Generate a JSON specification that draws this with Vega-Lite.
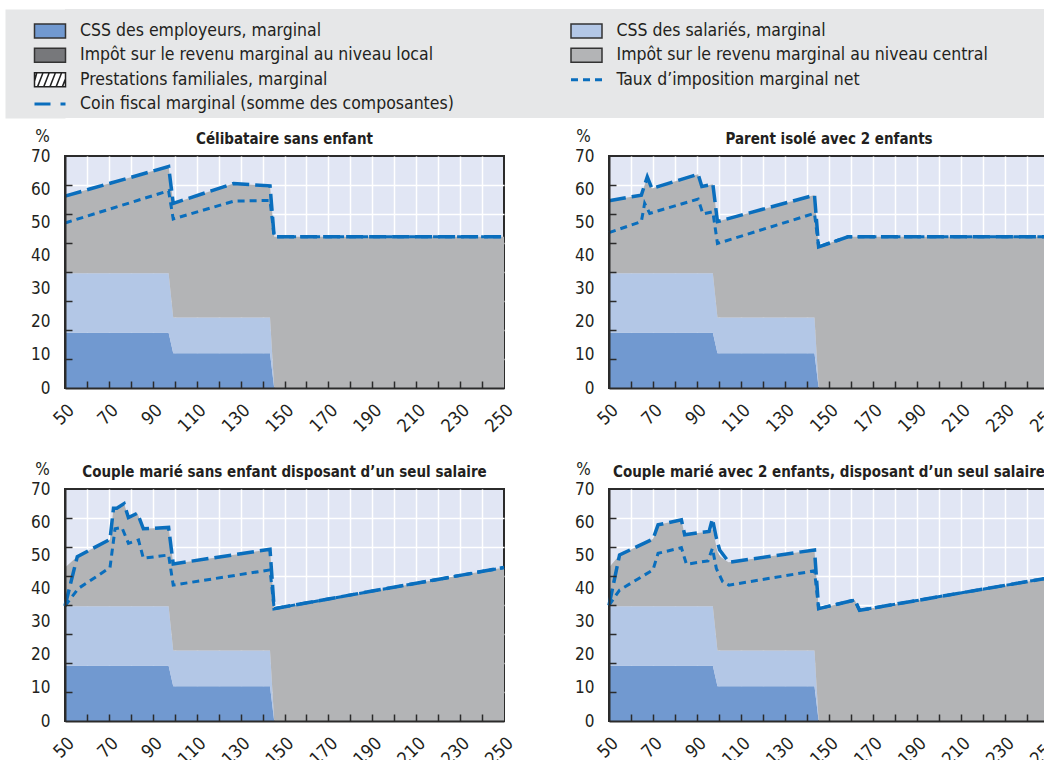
{
"$schema": "https://vega.github.io/schema/vega-lite/v6.json",
"padding": {"left": 28, "top": 9, "right": 0, "bottom": 0},
"background": "#ffffff",
"config": {
  "font": "DejaVu Sans Condensed, DejaVu Sans, sans-serif",
  "view": {"stroke": "#2b2b2b", "strokeWidth": 2, "fill": "#e1e6f4"},
  "title": {"fontSize": 15, "fontWeight": "bold", "color": "#231f20", "anchor": "middle", "frame": "group", "offset": 0, "baseline": "alphabetic", "dy": 24}
},
"datasets": {
  "legend": [
    {"label": "CSS des employeurs, marginal", "col": 0, "row": 0, "k": "emp"},
    {"label": "Impôt sur le revenu marginal au niveau local", "col": 0, "row": 1, "k": "local"},
    {"label": "Prestations familiales, marginal", "col": 0, "row": 2, "k": "fam"},
    {"label": "Coin fiscal marginal (somme des composantes)", "col": 0, "row": 3, "k": "wedge"},
    {"label": "CSS des salariés, marginal", "col": 1, "row": 0, "k": "ee"},
    {"label": "Impôt sur le revenu marginal au niveau central", "col": 1, "row": 1, "k": "central"},
    {"label": "Taux d’imposition marginal net", "col": 1, "row": 2, "k": "net"}
  ],
  "areas": [
    {"p": "p1", "x": 50, "css_employeurs": 16.7, "css_salaries": 17.9, "impot_central": 23.3},
    {"p": "p1", "x": 97.2, "css_employeurs": 16.7, "css_salaries": 17.9, "impot_central": 32.2},
    {"p": "p1", "x": 99.3, "css_employeurs": 10.5, "css_salaries": 10.8, "impot_central": 34.4},
    {"p": "p1", "x": 126.8, "css_employeurs": 10.5, "css_salaries": 10.8, "impot_central": 40.4},
    {"p": "p1", "x": 143.4, "css_employeurs": 10.5, "css_salaries": 10.8, "impot_central": 39.7},
    {"p": "p1", "x": 145.3, "css_employeurs": 0, "css_salaries": 0, "impot_central": 45.6},
    {"p": "p1", "x": 250, "css_employeurs": 0, "css_salaries": 0, "impot_central": 45.6},

    {"p": "p2", "x": 50, "css_employeurs": 16.7, "css_salaries": 17.9, "impot_central": 21.9},
    {"p": "p2", "x": 64.7, "css_employeurs": 16.7, "css_salaries": 17.9, "impot_central": 23.6},
    {"p": "p2", "x": 67.4, "css_employeurs": 16.7, "css_salaries": 17.9, "impot_central": 29.1},
    {"p": "p2", "x": 69.5, "css_employeurs": 16.7, "css_salaries": 17.9, "impot_central": 25.6},
    {"p": "p2", "x": 90.5, "css_employeurs": 16.7, "css_salaries": 17.9, "impot_central": 29.9},
    {"p": "p2", "x": 92.2, "css_employeurs": 16.7, "css_salaries": 17.9, "impot_central": 26.2},
    {"p": "p2", "x": 97.2, "css_employeurs": 16.7, "css_salaries": 17.9, "impot_central": 26.9},
    {"p": "p2", "x": 99.3, "css_employeurs": 10.5, "css_salaries": 10.8, "impot_central": 28.9},
    {"p": "p2", "x": 143.4, "css_employeurs": 10.5, "css_salaries": 10.8, "impot_central": 36.9},
    {"p": "p2", "x": 145.3, "css_employeurs": 0, "css_salaries": 0, "impot_central": 42.6},
    {"p": "p2", "x": 158.6, "css_employeurs": 0, "css_salaries": 0, "impot_central": 45.6},
    {"p": "p2", "x": 250, "css_employeurs": 0, "css_salaries": 0, "impot_central": 45.6},

    {"p": "p3", "x": 50, "css_employeurs": 16.7, "css_salaries": 17.9, "impot_central": 11.7},
    {"p": "p3", "x": 55.6, "css_employeurs": 16.7, "css_salaries": 17.9, "impot_central": 15.0},
    {"p": "p3", "x": 70.5, "css_employeurs": 16.7, "css_salaries": 17.9, "impot_central": 20.2},
    {"p": "p3", "x": 72.1, "css_employeurs": 16.7, "css_salaries": 17.9, "impot_central": 29.6},
    {"p": "p3", "x": 73.6, "css_employeurs": 16.7, "css_salaries": 17.9, "impot_central": 29.6},
    {"p": "p3", "x": 76.9, "css_employeurs": 16.7, "css_salaries": 17.9, "impot_central": 31.0},
    {"p": "p3", "x": 78.9, "css_employeurs": 16.7, "css_salaries": 17.9, "impot_central": 26.8},
    {"p": "p3", "x": 83.0, "css_employeurs": 16.7, "css_salaries": 17.9, "impot_central": 28.1},
    {"p": "p3", "x": 85.7, "css_employeurs": 16.7, "css_salaries": 17.9, "impot_central": 23.4},
    {"p": "p3", "x": 97.2, "css_employeurs": 16.7, "css_salaries": 17.9, "impot_central": 23.8},
    {"p": "p3", "x": 99.3, "css_employeurs": 10.5, "css_salaries": 10.8, "impot_central": 26.1},
    {"p": "p3", "x": 143.4, "css_employeurs": 10.5, "css_salaries": 10.8, "impot_central": 30.5},
    {"p": "p3", "x": 145.3, "css_employeurs": 0, "css_salaries": 0, "impot_central": 33.9},
    {"p": "p3", "x": 250, "css_employeurs": 0, "css_salaries": 0, "impot_central": 46.3},

    {"p": "p4", "x": 50, "css_employeurs": 16.7, "css_salaries": 17.9, "impot_central": 11.7},
    {"p": "p4", "x": 54.8, "css_employeurs": 16.7, "css_salaries": 17.9, "impot_central": 15.5},
    {"p": "p4", "x": 70, "css_employeurs": 16.7, "css_salaries": 17.9, "impot_central": 20.3},
    {"p": "p4", "x": 72.3, "css_employeurs": 16.7, "css_salaries": 17.9, "impot_central": 24.6},
    {"p": "p4", "x": 82.9, "css_employeurs": 16.7, "css_salaries": 17.9, "impot_central": 26.1},
    {"p": "p4", "x": 84.4, "css_employeurs": 16.7, "css_salaries": 17.9, "impot_central": 21.6},
    {"p": "p4", "x": 95.5, "css_employeurs": 16.7, "css_salaries": 17.9, "impot_central": 22.6},
    {"p": "p4", "x": 97.2, "css_employeurs": 16.7, "css_salaries": 17.9, "impot_central": 23.2},
    {"p": "p4", "x": 99.3, "css_employeurs": 10.5, "css_salaries": 10.8, "impot_central": 29.7},
    {"p": "p4", "x": 100.8, "css_employeurs": 10.5, "css_salaries": 10.8, "impot_central": 28.2},
    {"p": "p4", "x": 104.3, "css_employeurs": 10.5, "css_salaries": 10.8, "impot_central": 26.6},
    {"p": "p4", "x": 143.4, "css_employeurs": 10.5, "css_salaries": 10.8, "impot_central": 30.3},
    {"p": "p4", "x": 145.3, "css_employeurs": 0, "css_salaries": 0, "impot_central": 33.9},
    {"p": "p4", "x": 161.7, "css_employeurs": 0, "css_salaries": 0, "impot_central": 36.5},
    {"p": "p4", "x": 163.9, "css_employeurs": 0, "css_salaries": 0, "impot_central": 33.4},
    {"p": "p4", "x": 250, "css_employeurs": 0, "css_salaries": 0, "impot_central": 43.2}
  ],
  "lines": [
    {"p": "p1", "s": "wedge", "x": 50, "v": 57.9},
    {"p": "p1", "s": "wedge", "x": 97.2, "v": 66.8},
    {"p": "p1", "s": "wedge", "x": 99.3, "v": 55.7},
    {"p": "p1", "s": "wedge", "x": 126.8, "v": 61.7},
    {"p": "p1", "s": "wedge", "x": 143.4, "v": 61.0},
    {"p": "p1", "s": "wedge", "x": 145.3, "v": 45.6},
    {"p": "p1", "s": "wedge", "x": 250, "v": 45.6},
    {"p": "p1", "s": "net", "x": 50, "v": 49.8},
    {"p": "p1", "s": "net", "x": 97.2, "v": 59.5},
    {"p": "p1", "s": "net", "x": 99.3, "v": 51.0},
    {"p": "p1", "s": "net", "x": 127, "v": 56.4},
    {"p": "p1", "s": "net", "x": 143.4, "v": 56.6},
    {"p": "p1", "s": "net", "x": 145.3, "v": 45.6},
    {"p": "p1", "s": "net", "x": 250, "v": 45.6},

    {"p": "p2", "s": "wedge", "x": 50, "v": 56.5},
    {"p": "p2", "s": "wedge", "x": 64.7, "v": 58.2},
    {"p": "p2", "s": "wedge", "x": 67.4, "v": 63.7},
    {"p": "p2", "s": "wedge", "x": 69.5, "v": 60.2},
    {"p": "p2", "s": "wedge", "x": 90.5, "v": 64.5},
    {"p": "p2", "s": "wedge", "x": 92.2, "v": 60.8},
    {"p": "p2", "s": "wedge", "x": 97.2, "v": 61.5},
    {"p": "p2", "s": "wedge", "x": 99.3, "v": 50.2},
    {"p": "p2", "s": "wedge", "x": 143.4, "v": 58.2},
    {"p": "p2", "s": "wedge", "x": 145.3, "v": 42.6},
    {"p": "p2", "s": "wedge", "x": 158.6, "v": 45.6},
    {"p": "p2", "s": "wedge", "x": 250, "v": 45.6},
    {"p": "p2", "s": "net", "x": 50, "v": 46.9},
    {"p": "p2", "s": "net", "x": 64.7, "v": 50.2},
    {"p": "p2", "s": "net", "x": 66.2, "v": 55.7},
    {"p": "p2", "s": "net", "x": 68.5, "v": 52.7},
    {"p": "p2", "s": "net", "x": 90.5, "v": 57.0},
    {"p": "p2", "s": "net", "x": 92.7, "v": 52.5},
    {"p": "p2", "s": "net", "x": 97.2, "v": 53.2},
    {"p": "p2", "s": "net", "x": 99.3, "v": 43.6},
    {"p": "p2", "s": "net", "x": 143.4, "v": 52.7},
    {"p": "p2", "s": "net", "x": 145.3, "v": 42.6},
    {"p": "p2", "s": "net", "x": 158.6, "v": 45.6},
    {"p": "p2", "s": "net", "x": 250, "v": 45.6},

    {"p": "p3", "s": "wedge", "x": 50, "v": 34.7},
    {"p": "p3", "s": "wedge", "x": 55.6, "v": 49.6},
    {"p": "p3", "s": "wedge", "x": 70.5, "v": 54.8},
    {"p": "p3", "s": "wedge", "x": 72.1, "v": 64.2},
    {"p": "p3", "s": "wedge", "x": 73.6, "v": 64.2},
    {"p": "p3", "s": "wedge", "x": 76.9, "v": 65.6},
    {"p": "p3", "s": "wedge", "x": 78.9, "v": 61.4},
    {"p": "p3", "s": "wedge", "x": 83.0, "v": 62.7},
    {"p": "p3", "s": "wedge", "x": 85.7, "v": 58.0},
    {"p": "p3", "s": "wedge", "x": 97.2, "v": 58.4},
    {"p": "p3", "s": "wedge", "x": 99.3, "v": 47.4},
    {"p": "p3", "s": "wedge", "x": 143.4, "v": 51.8},
    {"p": "p3", "s": "wedge", "x": 145.3, "v": 33.9},
    {"p": "p3", "s": "wedge", "x": 250, "v": 46.3},
    {"p": "p3", "s": "net", "x": 50, "v": 34.7},
    {"p": "p3", "s": "net", "x": 56.1, "v": 40.0},
    {"p": "p3", "s": "net", "x": 70.5, "v": 46.3},
    {"p": "p3", "s": "net", "x": 72.8, "v": 58.0},
    {"p": "p3", "s": "net", "x": 75.9, "v": 58.4},
    {"p": "p3", "s": "net", "x": 78.9, "v": 53.6},
    {"p": "p3", "s": "net", "x": 83.5, "v": 54.6},
    {"p": "p3", "s": "net", "x": 85.7, "v": 49.1},
    {"p": "p3", "s": "net", "x": 97.2, "v": 50.1},
    {"p": "p3", "s": "net", "x": 99.3, "v": 41.0},
    {"p": "p3", "s": "net", "x": 143.4, "v": 45.6},
    {"p": "p3", "s": "net", "x": 145.3, "v": 33.9},
    {"p": "p3", "s": "net", "x": 250, "v": 46.3},

    {"p": "p4", "s": "wedge", "x": 50, "v": 34.9},
    {"p": "p4", "s": "wedge", "x": 54.8, "v": 50.1},
    {"p": "p4", "s": "wedge", "x": 70, "v": 54.9},
    {"p": "p4", "s": "wedge", "x": 72.3, "v": 59.2},
    {"p": "p4", "s": "wedge", "x": 82.9, "v": 60.7},
    {"p": "p4", "s": "wedge", "x": 84.4, "v": 56.2},
    {"p": "p4", "s": "wedge", "x": 95.5, "v": 57.2},
    {"p": "p4", "s": "wedge", "x": 97.0, "v": 61.0},
    {"p": "p4", "s": "wedge", "x": 98.8, "v": 55.2},
    {"p": "p4", "s": "wedge", "x": 100.3, "v": 51.6},
    {"p": "p4", "s": "wedge", "x": 104.5, "v": 47.9},
    {"p": "p4", "s": "wedge", "x": 143.4, "v": 51.6},
    {"p": "p4", "s": "wedge", "x": 145.3, "v": 33.9},
    {"p": "p4", "s": "wedge", "x": 161.7, "v": 36.5},
    {"p": "p4", "s": "wedge", "x": 163.9, "v": 33.4},
    {"p": "p4", "s": "wedge", "x": 250, "v": 43.2},
    {"p": "p4", "s": "net", "x": 50, "v": 34.9},
    {"p": "p4", "s": "net", "x": 54.8, "v": 39.5},
    {"p": "p4", "s": "net", "x": 70, "v": 45.6},
    {"p": "p4", "s": "net", "x": 72.3, "v": 50.6},
    {"p": "p4", "s": "net", "x": 82.9, "v": 52.3},
    {"p": "p4", "s": "net", "x": 85.2, "v": 47.3},
    {"p": "p4", "s": "net", "x": 95.0, "v": 48.3},
    {"p": "p4", "s": "net", "x": 97.0, "v": 52.1},
    {"p": "p4", "s": "net", "x": 98.8, "v": 46.0},
    {"p": "p4", "s": "net", "x": 101.7, "v": 42.0},
    {"p": "p4", "s": "net", "x": 104.5, "v": 41.0},
    {"p": "p4", "s": "net", "x": 143.4, "v": 45.3},
    {"p": "p4", "s": "net", "x": 145.3, "v": 33.9},
    {"p": "p4", "s": "net", "x": 161.7, "v": 36.5},
    {"p": "p4", "s": "net", "x": 163.9, "v": 33.4},
    {"p": "p4", "s": "net", "x": 250, "v": 43.2}
  ]
},
"resolve": {"scale": {"color": "independent"}},
"spacing": 8,
"vconcat": [
  {
    "width": 985, "height": 109,
    "view": {"fill": "#e6e7e8", "stroke": null},
    "data": {"name": "legend"},
    "encoding": {
      "x": {"field": "col", "type": "quantitative", "scale": {"domain": [0, 1], "range": [-15, 521.5]}, "axis": null},
      "y": {"field": "row", "type": "quantitative", "scale": {"domain": [-0.904, 3.575], "range": [0, 109]},
            "axis": {"orient": "left", "offset": 30, "values": [], "domain": true, "domainColor": "#e6e7e8", "domainWidth": 60, "domainCap": "butt", "labels": false, "ticks": false, "grid": false, "title": null}}
    },
    "layer": [
      {"transform": [{"filter": "datum.k == 'emp' || datum.k == 'ee' || datum.k == 'local' || datum.k == 'central'"}],
       "mark": {"type": "point", "shape": "M-1,-0.45H1V0.45H-1Z", "size": 961, "filled": true, "stroke": "#333333", "strokeWidth": 1.5, "opacity": 1},
       "encoding": {"color": {"field": "k", "type": "nominal", "scale": {"domain": ["emp", "ee", "local", "central"], "range": ["#7199d0", "#b3c7e6", "#77787b", "#b3b4b6"]}, "legend": null}}},
      {"transform": [{"filter": "datum.k == 'fam'"}],
       "mark": {"type": "point", "shape": "M-1,-0.45H1V0.45H-1Z M-1,0.1L-0.85,-0.45 M-0.8,0.45L-0.45,-0.45 M-0.4,0.45L-0.05,-0.45 M0,0.45L0.35,-0.45 M0.4,0.45L0.75,-0.45 M0.8,0.45L1,-0.05", "size": 961, "filled": true, "fill": "#ffffff", "stroke": "#222222", "strokeWidth": 1.5, "opacity": 1}},
      {"transform": [{"filter": "datum.k == 'wedge'"}],
       "mark": {"type": "point", "shape": "M-1,0H1", "size": 961, "filled": false, "stroke": "#0a6ebd", "strokeWidth": 3, "strokeDash": [16, 10], "opacity": 1}},
      {"transform": [{"filter": "datum.k == 'net'"}],
       "mark": {"type": "point", "shape": "M-1,0H1", "size": 961, "filled": false, "stroke": "#0a6ebd", "strokeWidth": 3, "strokeDash": [7, 5], "opacity": 1}},
      {"mark": {"type": "text", "align": "left", "baseline": "middle", "dx": 30, "fontSize": 17.5, "color": "#231f20"},
       "encoding": {"text": {"field": "label", "type": "nominal"}}}
    ]
  },
  {
    "spacing": 22,
    "vconcat": [
      {
        "hconcat": [
          {
            "width": 439, "height": 232,
            "title": {"text": "Célibataire sans enfant"},
            "resolve": {"axis": {"x": "independent", "y": "independent"}},
            "layer": [
              {"data": {"name": "areas"},
               "transform": [{"filter": "datum.p == 'p1'"}, {"fold": ["css_employeurs", "css_salaries", "impot_central"], "as": ["c", "v"]}],
               "mark": {"type": "area", "opacity": 1},
               "encoding": {
                 "x": {"field": "x", "type": "quantitative", "scale": {"domain": [50, 250], "nice": false},
                       "axis": {"orient": "bottom", "values": [60,70,80,90,100,110,120,130,140,150,160,170,180,190,200,210,220,230,240], "grid": true, "gridColor": "#ffffff", "gridWidth": 1.5, "gridOpacity": 1, "ticks": false, "labels": false, "domain": false, "title": null, "zindex": 0}},
                 "y": {"field": "v", "type": "quantitative", "stack": "zero", "scale": {"domain": [0, 70], "nice": false},
                       "axis": {"orient": "left", "values": [8.75, 17.5, 26.25, 35, 43.75, 52.5, 61.25], "grid": true, "gridColor": "#ffffff", "gridWidth": 1.5, "gridOpacity": 1, "ticks": false, "labels": false, "domain": false, "title": null, "zindex": 0}},
                 "color": {"field": "c", "type": "nominal", "scale": {"domain": ["css_employeurs", "css_salaries", "impot_central"], "range": ["#7199d0", "#b3c7e6", "#b3b4b6"]}, "legend": null},
                 "order": {"field": "c", "type": "ordinal", "sort": "ascending"}
               }},
              {"data": {"name": "lines"},
               "transform": [{"filter": "datum.p == 'p1' && datum.s == 'wedge'"}],
               "mark": {"type": "line", "color": "#0a6ebd", "strokeWidth": 3.5, "strokeDash": [17, 6]},
               "encoding": {
                 "x": {"field": "x", "type": "quantitative",
                       "axis": {"orient": "bottom", "values": [50,70,90,110,130,150,170,190,210,230,250], "grid": false, "ticks": false, "domain": true, "domainColor": "#2b2b2b", "domainWidth": 2, "labels": true, "labelAngle": -45, "labelAlign": "right", "labelBaseline": "top", "labelPadding": 13, "labelFontSize": 18, "labelColor": "#231f20", "labelFlush": false, "labelOverlap": false, "title": null, "zindex": 1}},
                 "y": {"field": "v", "type": "quantitative",
                       "axis": {"orient": "left", "values": [0,10,20,30,40,50,60,70], "grid": false, "ticks": false, "domain": true, "domainColor": "#2b2b2b", "domainWidth": 2, "labels": true, "labelPadding": 15, "labelFontSize": 17, "labelColor": "#231f20", "labelFlush": false, "labelOverlap": false, "title": "%", "titleAngle": 0, "titleX": -23, "titleY": -15, "titleAlign": "center", "titleBaseline": "alphabetic", "titleFontSize": 17, "titleFontWeight": "normal", "titleColor": "#231f20", "zindex": 1}}
               }},
              {"data": {"name": "lines"},
               "transform": [{"filter": "datum.p == 'p1' && datum.s == 'net'"}],
               "mark": {"type": "line", "color": "#0a6ebd", "strokeWidth": 3, "strokeDash": [7, 5]},
               "encoding": {
                 "x": {"field": "x", "type": "quantitative",
                       "axis": {"orient": "bottom", "values": [60,70,80,90,100,110,120,130,140,150,160,170,180,190,200,210,220,230,240], "grid": false, "ticks": true, "tickSize": -7, "tickColor": "#2b2b2b", "tickWidth": 1.5, "labels": false, "domain": false, "title": null, "zindex": 1}},
                 "y": {"field": "v", "type": "quantitative",
                       "axis": {"orient": "left", "values": [8.75, 17.5, 26.25, 35, 43.75, 52.5, 61.25], "grid": false, "ticks": true, "tickSize": -7, "tickColor": "#2b2b2b", "tickWidth": 1.5, "labels": false, "domain": false, "title": null, "zindex": 1}}
               }}
            ]
          },
          {
            "width": 440, "height": 232,
            "title": {"text": "Parent isolé avec 2 enfants"},
            "resolve": {"axis": {"x": "independent", "y": "independent"}},
            "layer": [
              {"data": {"name": "areas"},
               "transform": [{"filter": "datum.p == 'p2'"}, {"fold": ["css_employeurs", "css_salaries", "impot_central"], "as": ["c", "v"]}],
               "mark": {"type": "area", "opacity": 1},
               "encoding": {
                 "x": {"field": "x", "type": "quantitative", "scale": {"domain": [50, 250], "nice": false},
                       "axis": {"orient": "bottom", "values": [60,70,80,90,100,110,120,130,140,150,160,170,180,190,200,210,220,230,240], "grid": true, "gridColor": "#ffffff", "gridWidth": 1.5, "gridOpacity": 1, "ticks": false, "labels": false, "domain": false, "title": null, "zindex": 0}},
                 "y": {"field": "v", "type": "quantitative", "stack": "zero", "scale": {"domain": [0, 70], "nice": false},
                       "axis": {"orient": "left", "values": [8.75, 17.5, 26.25, 35, 43.75, 52.5, 61.25], "grid": true, "gridColor": "#ffffff", "gridWidth": 1.5, "gridOpacity": 1, "ticks": false, "labels": false, "domain": false, "title": null, "zindex": 0}},
                 "color": {"field": "c", "type": "nominal", "scale": {"domain": ["css_employeurs", "css_salaries", "impot_central"], "range": ["#7199d0", "#b3c7e6", "#b3b4b6"]}, "legend": null},
                 "order": {"field": "c", "type": "ordinal", "sort": "ascending"}
               }},
              {"data": {"name": "lines"},
               "transform": [{"filter": "datum.p == 'p2' && datum.s == 'wedge'"}],
               "mark": {"type": "line", "color": "#0a6ebd", "strokeWidth": 3.5, "strokeDash": [17, 6]},
               "encoding": {
                 "x": {"field": "x", "type": "quantitative",
                       "axis": {"orient": "bottom", "values": [50,70,90,110,130,150,170,190,210,230,250], "grid": false, "ticks": false, "domain": true, "domainColor": "#2b2b2b", "domainWidth": 2, "labels": true, "labelAngle": -45, "labelAlign": "right", "labelBaseline": "top", "labelPadding": 13, "labelFontSize": 18, "labelColor": "#231f20", "labelFlush": false, "labelOverlap": false, "title": null, "zindex": 1}},
                 "y": {"field": "v", "type": "quantitative",
                       "axis": {"orient": "left", "values": [0,10,20,30,40,50,60,70], "grid": false, "ticks": false, "domain": true, "domainColor": "#2b2b2b", "domainWidth": 2, "labels": true, "labelPadding": 15, "labelFontSize": 17, "labelColor": "#231f20", "labelFlush": false, "labelOverlap": false, "title": "%", "titleAngle": 0, "titleX": -26, "titleY": -15, "titleAlign": "center", "titleBaseline": "alphabetic", "titleFontSize": 17, "titleFontWeight": "normal", "titleColor": "#231f20", "zindex": 1}}
               }},
              {"data": {"name": "lines"},
               "transform": [{"filter": "datum.p == 'p2' && datum.s == 'net'"}],
               "mark": {"type": "line", "color": "#0a6ebd", "strokeWidth": 3, "strokeDash": [7, 5]},
               "encoding": {
                 "x": {"field": "x", "type": "quantitative",
                       "axis": {"orient": "bottom", "values": [60,70,80,90,100,110,120,130,140,150,160,170,180,190,200,210,220,230,240], "grid": false, "ticks": true, "tickSize": -7, "tickColor": "#2b2b2b", "tickWidth": 1.5, "labels": false, "domain": false, "title": null, "zindex": 1}},
                 "y": {"field": "v", "type": "quantitative",
                       "axis": {"orient": "left", "values": [8.75, 17.5, 26.25, 35, 43.75, 52.5, 61.25], "grid": false, "ticks": true, "tickSize": -7, "tickColor": "#2b2b2b", "tickWidth": 1.5, "labels": false, "domain": false, "title": null, "zindex": 1}}
               }}
            ]
          }
        ],
        "spacing": 105,
        "bounds": "flush"
      },
      {
        "hconcat": [
          {
            "width": 439, "height": 232,
            "title": {"text": "Couple marié sans enfant disposant d’un seul salaire"},
            "resolve": {"axis": {"x": "independent", "y": "independent"}},
            "layer": [
              {"data": {"name": "areas"},
               "transform": [{"filter": "datum.p == 'p3'"}, {"fold": ["css_employeurs", "css_salaries", "impot_central"], "as": ["c", "v"]}],
               "mark": {"type": "area", "opacity": 1},
               "encoding": {
                 "x": {"field": "x", "type": "quantitative", "scale": {"domain": [50, 250], "nice": false},
                       "axis": {"orient": "bottom", "values": [60,70,80,90,100,110,120,130,140,150,160,170,180,190,200,210,220,230,240], "grid": true, "gridColor": "#ffffff", "gridWidth": 1.5, "gridOpacity": 1, "ticks": false, "labels": false, "domain": false, "title": null, "zindex": 0}},
                 "y": {"field": "v", "type": "quantitative", "stack": "zero", "scale": {"domain": [0, 70], "nice": false},
                       "axis": {"orient": "left", "values": [8.75, 17.5, 26.25, 35, 43.75, 52.5, 61.25], "grid": true, "gridColor": "#ffffff", "gridWidth": 1.5, "gridOpacity": 1, "ticks": false, "labels": false, "domain": false, "title": null, "zindex": 0}},
                 "color": {"field": "c", "type": "nominal", "scale": {"domain": ["css_employeurs", "css_salaries", "impot_central"], "range": ["#7199d0", "#b3c7e6", "#b3b4b6"]}, "legend": null},
                 "order": {"field": "c", "type": "ordinal", "sort": "ascending"}
               }},
              {"data": {"name": "lines"},
               "transform": [{"filter": "datum.p == 'p3' && datum.s == 'wedge'"}],
               "mark": {"type": "line", "color": "#0a6ebd", "strokeWidth": 3.5, "strokeDash": [17, 6]},
               "encoding": {
                 "x": {"field": "x", "type": "quantitative",
                       "axis": {"orient": "bottom", "values": [50,70,90,110,130,150,170,190,210,230,250], "grid": false, "ticks": false, "domain": true, "domainColor": "#2b2b2b", "domainWidth": 2, "labels": true, "labelAngle": -45, "labelAlign": "right", "labelBaseline": "top", "labelPadding": 13, "labelFontSize": 18, "labelColor": "#231f20", "labelFlush": false, "labelOverlap": false, "title": null, "zindex": 1}},
                 "y": {"field": "v", "type": "quantitative",
                       "axis": {"orient": "left", "values": [0,10,20,30,40,50,60,70], "grid": false, "ticks": false, "domain": true, "domainColor": "#2b2b2b", "domainWidth": 2, "labels": true, "labelPadding": 15, "labelFontSize": 17, "labelColor": "#231f20", "labelFlush": false, "labelOverlap": false, "title": "%", "titleAngle": 0, "titleX": -23, "titleY": -15, "titleAlign": "center", "titleBaseline": "alphabetic", "titleFontSize": 17, "titleFontWeight": "normal", "titleColor": "#231f20", "zindex": 1}}
               }},
              {"data": {"name": "lines"},
               "transform": [{"filter": "datum.p == 'p3' && datum.s == 'net'"}],
               "mark": {"type": "line", "color": "#0a6ebd", "strokeWidth": 3, "strokeDash": [7, 5]},
               "encoding": {
                 "x": {"field": "x", "type": "quantitative",
                       "axis": {"orient": "bottom", "values": [60,70,80,90,100,110,120,130,140,150,160,170,180,190,200,210,220,230,240], "grid": false, "ticks": true, "tickSize": -7, "tickColor": "#2b2b2b", "tickWidth": 1.5, "labels": false, "domain": false, "title": null, "zindex": 1}},
                 "y": {"field": "v", "type": "quantitative",
                       "axis": {"orient": "left", "values": [8.75, 17.5, 26.25, 35, 43.75, 52.5, 61.25], "grid": false, "ticks": true, "tickSize": -7, "tickColor": "#2b2b2b", "tickWidth": 1.5, "labels": false, "domain": false, "title": null, "zindex": 1}}
               }}
            ]
          },
          {
            "width": 440, "height": 232,
            "title": {"text": "Couple marié avec 2 enfants, disposant d’un seul salaire"},
            "resolve": {"axis": {"x": "independent", "y": "independent"}},
            "layer": [
              {"data": {"name": "areas"},
               "transform": [{"filter": "datum.p == 'p4'"}, {"fold": ["css_employeurs", "css_salaries", "impot_central"], "as": ["c", "v"]}],
               "mark": {"type": "area", "opacity": 1},
               "encoding": {
                 "x": {"field": "x", "type": "quantitative", "scale": {"domain": [50, 250], "nice": false},
                       "axis": {"orient": "bottom", "values": [60,70,80,90,100,110,120,130,140,150,160,170,180,190,200,210,220,230,240], "grid": true, "gridColor": "#ffffff", "gridWidth": 1.5, "gridOpacity": 1, "ticks": false, "labels": false, "domain": false, "title": null, "zindex": 0}},
                 "y": {"field": "v", "type": "quantitative", "stack": "zero", "scale": {"domain": [0, 70], "nice": false},
                       "axis": {"orient": "left", "values": [8.75, 17.5, 26.25, 35, 43.75, 52.5, 61.25], "grid": true, "gridColor": "#ffffff", "gridWidth": 1.5, "gridOpacity": 1, "ticks": false, "labels": false, "domain": false, "title": null, "zindex": 0}},
                 "color": {"field": "c", "type": "nominal", "scale": {"domain": ["css_employeurs", "css_salaries", "impot_central"], "range": ["#7199d0", "#b3c7e6", "#b3b4b6"]}, "legend": null},
                 "order": {"field": "c", "type": "ordinal", "sort": "ascending"}
               }},
              {"data": {"name": "lines"},
               "transform": [{"filter": "datum.p == 'p4' && datum.s == 'wedge'"}],
               "mark": {"type": "line", "color": "#0a6ebd", "strokeWidth": 3.5, "strokeDash": [17, 6]},
               "encoding": {
                 "x": {"field": "x", "type": "quantitative",
                       "axis": {"orient": "bottom", "values": [50,70,90,110,130,150,170,190,210,230,250], "grid": false, "ticks": false, "domain": true, "domainColor": "#2b2b2b", "domainWidth": 2, "labels": true, "labelAngle": -45, "labelAlign": "right", "labelBaseline": "top", "labelPadding": 13, "labelFontSize": 18, "labelColor": "#231f20", "labelFlush": false, "labelOverlap": false, "title": null, "zindex": 1}},
                 "y": {"field": "v", "type": "quantitative",
                       "axis": {"orient": "left", "values": [0,10,20,30,40,50,60,70], "grid": false, "ticks": false, "domain": true, "domainColor": "#2b2b2b", "domainWidth": 2, "labels": true, "labelPadding": 15, "labelFontSize": 17, "labelColor": "#231f20", "labelFlush": false, "labelOverlap": false, "title": "%", "titleAngle": 0, "titleX": -26, "titleY": -15, "titleAlign": "center", "titleBaseline": "alphabetic", "titleFontSize": 17, "titleFontWeight": "normal", "titleColor": "#231f20", "zindex": 1}}
               }},
              {"data": {"name": "lines"},
               "transform": [{"filter": "datum.p == 'p4' && datum.s == 'net'"}],
               "mark": {"type": "line", "color": "#0a6ebd", "strokeWidth": 3, "strokeDash": [7, 5]},
               "encoding": {
                 "x": {"field": "x", "type": "quantitative",
                       "axis": {"orient": "bottom", "values": [60,70,80,90,100,110,120,130,140,150,160,170,180,190,200,210,220,230,240], "grid": false, "ticks": true, "tickSize": -7, "tickColor": "#2b2b2b", "tickWidth": 1.5, "labels": false, "domain": false, "title": null, "zindex": 1}},
                 "y": {"field": "v", "type": "quantitative",
                       "axis": {"orient": "left", "values": [8.75, 17.5, 26.25, 35, 43.75, 52.5, 61.25], "grid": false, "ticks": true, "tickSize": -7, "tickColor": "#2b2b2b", "tickWidth": 1.5, "labels": false, "domain": false, "title": null, "zindex": 1}}
               }}
            ]
          }
        ],
        "spacing": 105,
        "bounds": "flush"
      }
    ]
  }
]
}
